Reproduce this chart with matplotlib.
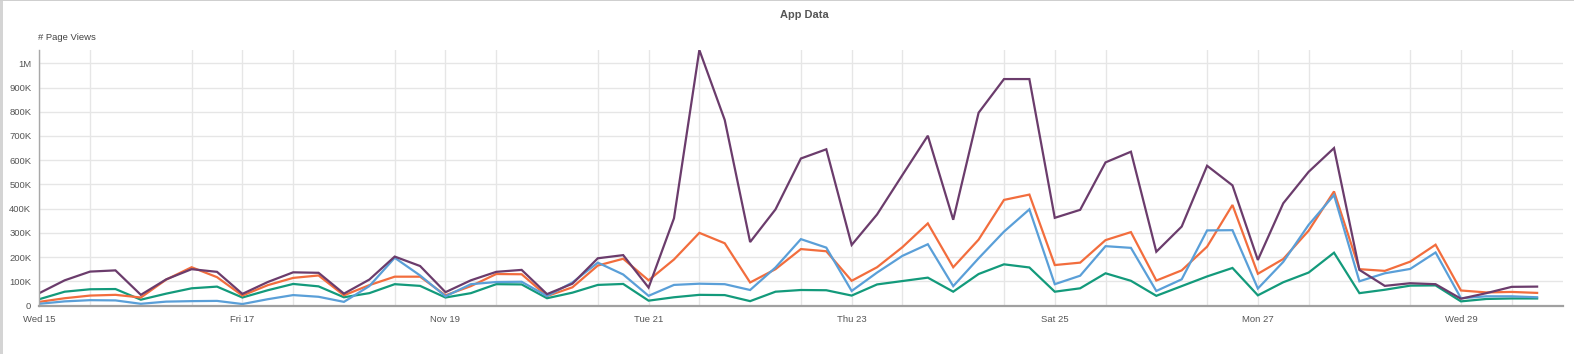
import matplotlib
matplotlib.use("Agg")
import matplotlib.pyplot as plt
import matplotlib.dates as mdates
from matplotlib.ticker import FixedLocator
import numpy as np
import pandas as pd

start = "2017-11-15 00:00"
periods = 60
freq = "6h"

# values in thousands of page views
series_a = [51, 104, 140, 145, 44, 108, 150, 139, 48, 97, 137, 135, 49, 107, 202, 163, 55, 104, 139, 147,
            47, 90, 195, 208, 74, 360, 1055, 766, 262, 397, 607, 645, 250, 376, 539, 701, 354, 796, 935, 935,
            362, 395, 591, 635, 222, 326, 577, 496, 188, 422, 552, 650, 147, 81, 92, 88, 28, 51, 77, 78]
series_b = [15, 30, 41, 44, 33, 107, 158, 117, 41, 84, 114, 124, 42, 84, 119, 119, 42, 80, 130, 129,
            39, 75, 165, 193, 104, 190, 300, 257, 95, 150, 233, 224, 102, 158, 241, 339, 158, 272, 436, 458,
            167, 177, 270, 303, 103, 145, 243, 415, 131, 192, 309, 471, 150, 143, 181, 251, 62, 54, 56, 52]
series_c = [7, 17, 22, 21, 7, 16, 18, 19, 6, 26, 43, 36, 15, 80, 197, 124, 38, 88, 97, 98,
            39, 95, 177, 128, 40, 85, 90, 88, 64, 157, 274, 239, 60, 136, 205, 253, 80, 195, 305, 397,
            88, 123, 245, 238, 60, 108, 310, 311, 70, 180, 333, 456, 100, 133, 151, 219, 30, 38, 38, 34]
series_d = [26, 57, 67, 68, 24, 49, 71, 78, 33, 63, 89, 79, 34, 51, 88, 81, 33, 51, 88, 87,
            30, 53, 85, 89, 20, 34, 44, 43, 18, 57, 64, 63, 41, 87, 101, 115, 57, 130, 170, 157,
            57, 71, 133, 102, 40, 80, 120, 155, 42, 96, 136, 218, 51, 65, 82, 83, 17, 27, 29, 29]

y_ticks = [0, 100000, 200000, 300000, 400000, 500000, 600000, 700000, 800000, 900000, 1000000]
y_tick_labels = ["0", "100K", "200K", "300K", "400K", "500K", "600K", "700K", "800K", "900K", "1M"]
x_tick_dates = ["2017-11-15", "2017-11-17", "2017-11-19", "2017-11-21", "2017-11-23",
                "2017-11-25", "2017-11-27", "2017-11-29"]
x_tick_labels = ["Wed 15", "Fri 17", "Nov 19", "Tue 21", "Thu 23", "Sat 25", "Mon 27", "Wed 29"]

title = "App Data"
y_title = "# Page Views"

colors = {"a": "#6b3c6c", "b": "#f26d3d", "c": "#5a9fd8", "d": "#139a7b"}

plt.rcParams['font.family'] = ['Liberation Sans', 'DejaVu Sans']

times = pd.date_range(start=start, periods=periods, freq=freq)

fig = plt.figure(figsize=(15.74, 3.54), dpi=100)
ax = fig.add_axes([39.3 / 1574, (354 - 305.5) / 354, (1562.5 - 39.3) / 1574, (305.5 - 50) / 354])

for key, vals in [("d", series_d), ("b", series_b), ("c", series_c), ("a", series_a)]:
    ax.plot(times, np.array(vals) * 1000, color=colors[key], lw=1.6, solid_joinstyle="miter")

ax.set_xlim(pd.Timestamp("2017-11-15 00:00"), pd.Timestamp("2017-11-30 00:00"))
ax.set_ylim(0, 1055000)

ax.yaxis.set_major_locator(FixedLocator(y_ticks))
ax.set_yticklabels(y_tick_labels)
ax.xaxis.set_major_locator(FixedLocator([mdates.date2num(pd.Timestamp(d)) for d in x_tick_dates]))
ax.set_xticklabels(x_tick_labels)
ax.xaxis.set_minor_locator(mdates.HourLocator(byhour=[12]))

ax.grid(True, which="major", axis="both", color="#e6e6e6", lw=1)
ax.grid(True, which="minor", axis="x", color="#e6e6e6", lw=1)
ax.set_axisbelow(True)

ax.tick_params(axis="both", which="both", length=0, labelsize=6.8, colors="#555555")
ax.tick_params(axis="y", pad=5.8)
ax.tick_params(axis="x", pad=6.5)

for s in ["top", "right"]:
    ax.spines[s].set_visible(False)
ax.spines["bottom"].set_color("#a0a0a0")
ax.spines["bottom"].set_linewidth(1.6)
ax.spines["left"].set_color("#a8a8a8")
ax.spines["left"].set_linewidth(1.0)

fig.text(804 / 1574, 1 - 15 / 354, title, ha="center", va="center", fontsize=7.9,
         fontweight="bold", color="#555555")
fig.text(38.5 / 1574, 1 - 37.7 / 354, y_title, ha="left", va="center", fontsize=6.8, color="#444444")

# screenshot frame
fig.patches.append(plt.Rectangle((0, 0), 2.5 / 1574, 1, transform=fig.transFigure,
                                 color="#d4d4d4", lw=0))
fig.patches.append(plt.Rectangle((0, 1 - 1.2 / 354), 1, 1.2 / 354, transform=fig.transFigure,
                                 color="#cfcfcf", lw=0))

fig.savefig("out.png", dpi=100)
